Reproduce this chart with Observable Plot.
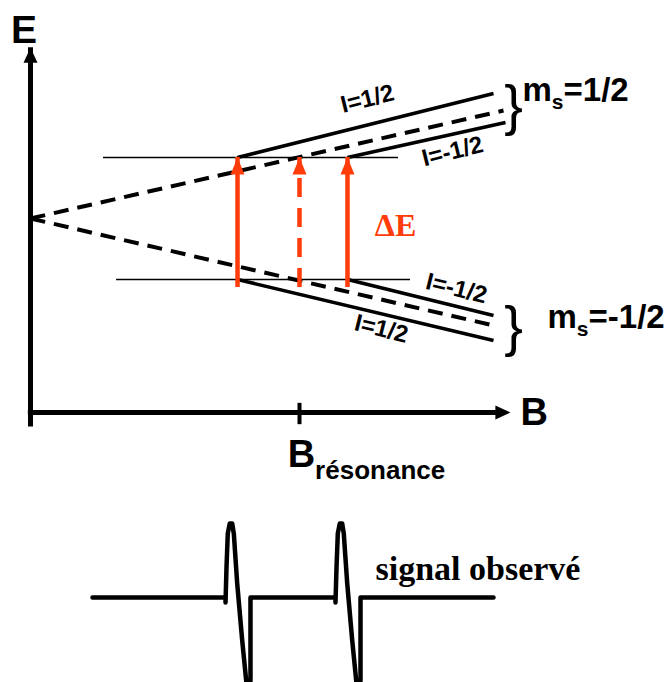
<!DOCTYPE html>
<html>
<head>
<meta charset="utf-8">
<script src="https://cdn.jsdelivr.net/npm/d3@7"></script>
<script src="https://cdn.jsdelivr.net/npm/@observablehq/plot@0.6"></script>
<style>
  html, body { margin: 0; padding: 0; background: #fff; }
  #chart svg { display: block; }
</style>
</head>
<body>
<div id="chart"></div>
<script>
// ---------------- data (B = magnetic field, E = energy, arbitrary units) ----------------
const levelE = [1, -1];                       // two reference levels separated by ΔE
const levelStartB = [1.357, 1.6];
const levelEndB = [6.84, 7.063];

const transitionB = [3.848, 5, 5.892];        // absorption lines; middle one = B résonance without coupling
const transitionDashed = [false, true, false];
const transitionFromE = -1;
const transitionToE = 1;

const zeemanMs = ["1/2", "-1/2"];             // electron Zeeman levels (dashed)
const zeemanEndB = [8.792, 8.606];
const zeemanEndE = [1.77, -1.754];

const hfStartB = [3.848, 5.892, 5.892, 3.848]; // hyperfine levels (solid)
const hfStartE = [1, 1, -1, -1];
const hfEndB = [8.606, 8.829, 8.606, 8.606];
const hfEndE = [2.049, 1.574, -1.59, -2.0];
const hfLabel = ["I=1/2", "I=-1/2", "I=-1/2", "I=1/2"];
const hfLabelB = [6.26, 7.844, 7.918, 6.52];
const hfLabelE = [1.96, 1.098, -1.148, -1.81];
const hfLabelAngle = [-14, -14, 14, 14];

const braceB = [8.978, 8.978];
const braceE = [1.836, -1.787];
const msLabelB = [9.145, 9.61];
const msLabelE = [1.934, -1.803];
const msLabelRest = ["=1/2", "=-1/2"];

const axisB = [-0.04, 8.92];                 // horizontal axis extent (tip)
const axisE = [-3.18, 2.8];                  // vertical axis extent (tip)
const resonanceB = 5;
const resonanceTickE = [-3.03, -3.38];

const deltaE = {label: "ΔE", B: 6.4, E: -0.279};
const eLabel = {label: "E", B: -0.12, E: 2.87};
const bLabel = {label: "B", B: 9.108, E: -3.393};
const bResLabel = {base: "B", sub: "résonance", rest: "", B: 4.78, E: -4.08};

// observed derivative signal
const signalB = [1.152, 3.625, 3.625, 3.643, 3.667, 3.704, 3.749, 3.779, 3.842, 3.935, 3.996, 4.043, 4.089, 4.089, 4.089,
                 5.669, 5.669, 5.688, 5.712, 5.749, 5.794, 5.823, 5.887, 5.98, 6.041, 6.087, 6.134, 6.134, 6.134, 8.606];
const signalAmp = [0, 0, -0.067, 0.4, 0.853, 0.987, 0.987, 0.853, 0.187, -0.573, -1.013, -1.37, -1.107, -0.08, 0,
                   0, -0.067, 0.4, 0.853, 0.987, 0.987, 0.853, 0.187, -0.573, -1.013, -1.37, -1.107, -0.08, 0, 0];
const signalLabel = {label: "signal observé", B: 6.413, amp: 0.227};

// ---------------- tables built from the arrays ----------------
const levels = levelE.map((E, i) => ({E, b0: levelStartB[i], b1: levelEndB[i]}));
const transitions = transitionB.map((B, i) => ({B, dashed: transitionDashed[i]}));
const zeeman = zeemanMs.map((ms, i) => ({ms, B: zeemanEndB[i], E: zeemanEndE[i]}));
const hyperfine = hfStartB.map((b, i) => ({b0: b, e0: hfStartE[i], b1: hfEndB[i], e1: hfEndE[i]}));
const hfLabels = hfLabel.map((t, i) => ({t, B: hfLabelB[i], E: hfLabelE[i], a: hfLabelAngle[i]}));
const braces = braceB.map((B, i) => ({B, E: braceE[i]}));
const msLabels = msLabelRest.map((rest, i) => ({base: "m", sub: "s", rest, B: msLabelB[i], E: msLabelE[i]}));
const signal = signalB.map((B, i) => ({B, amp: signalAmp[i]}));

// ---------------- styles ----------------
const red = "#ff3c0a";
const sans = "Liberation Sans, Arial, Helvetica, sans-serif";
const serif = "Liberation Serif, Times New Roman, serif";
const xScale = {domain: [0, 12], range: [30, 30 + 12 * 53.8]};

// arrow-head symbols (tip at the anchor point)
function head(dir, w, l) {
  return {
    draw(ctx) {
      if (dir === "up") { ctx.moveTo(0, 0); ctx.lineTo(w / 2, l); ctx.lineTo(-w / 2, l); }
      else { ctx.moveTo(0, 0); ctx.lineTo(-l, w / 2); ctx.lineTo(-l, -w / 2); }
      ctx.closePath();
    }
  };
}

const topPlot = Plot.plot({
  width: 671, height: 490,
  margin: 0,
  x: {...xScale, axis: null},
  y: {domain: [-4.5, 3.5], range: [218 + 4.5 * 61, 218 - 3.5 * 61], axis: null},
  style: {fontFamily: sans, background: "white"},
  marks: [
    // axes
    Plot.ruleX([0], {x: d => d, y1: axisE[0] - 0.04, y2: axisE[1], stroke: "black", strokeWidth: 5, insetTop: 12}),
    Plot.ruleY([axisE[0]], {y: d => d, x1: axisB[0], x2: axisB[1], stroke: "black", strokeWidth: 5, insetRight: 12}),
    Plot.dot([0], {x: d => d, y: axisE[1], symbol: head("up", 14, 15), r: 5, fill: "black", stroke: "none"}),
    Plot.dot([axisB[1]], {x: d => d, y: axisE[0], symbol: head("right", 14, 15), r: 5, fill: "black", stroke: "none"}),
    Plot.ruleX([resonanceB], {x: d => d, y1: resonanceTickE[0], y2: resonanceTickE[1], stroke: "black", strokeWidth: 4}),
    // reference levels
    Plot.ruleY(levels, {y: "E", x1: "b0", x2: "b1", stroke: "black", strokeWidth: 1.6}),
    // Zeeman (dashed)
    Plot.link(zeeman, {x1: 0, y1: 0, x2: "B", y2: "E", stroke: "black", strokeWidth: 4, strokeDasharray: "15,9"}),
    // hyperfine (solid)
    Plot.link(hyperfine, {x1: "b0", y1: "e0", x2: "b1", y2: "e1", stroke: "black", strokeWidth: 3.5}),
    // transitions
    Plot.ruleX(transitions.filter(d => !d.dashed), {x: "B", y1: transitionFromE, y2: transitionToE, stroke: red, strokeWidth: 4.5, insetTop: 8}),
    Plot.ruleX(transitions.filter(d => d.dashed), {x: "B", y1: transitionFromE, y2: transitionToE, stroke: red, strokeWidth: 4.5, insetTop: 8, strokeDasharray: "19,11"}),
    Plot.dot(transitions, {x: "B", y: transitionToE, symbol: head("up", 14, 17), r: 5, fill: red, stroke: "none"}),
    // labels
    Plot.text(hfLabels, {x: "B", y: "E", text: "t", rotate: "a", fontSize: 24, fontWeight: "bold", textAnchor: "middle", lineAnchor: "middle", fill: "black"}),
    Plot.text(braces, {x: "B", y: "E", text: d => "}", fontSize: 56, fontWeight: "normal", textAnchor: "middle", lineAnchor: "middle", fill: "black"}),
    Plot.text(msLabels, {x: "B", y: "E", text: d => d.base + d.sub + d.rest, fontSize: 33, fontWeight: "bold", textAnchor: "start", lineAnchor: "bottom", fill: "black"}),
    Plot.text([deltaE], {x: "B", y: "E", text: "label", fontFamily: serif, fontSize: 32, fontWeight: "bold", textAnchor: "start", lineAnchor: "bottom", fill: red}),
    Plot.text([eLabel], {x: "B", y: "E", text: "label", fontSize: 39, fontWeight: "bold", textAnchor: "middle", lineAnchor: "bottom", fill: "black"}),
    Plot.text([bLabel], {x: "B", y: "E", text: "label", fontSize: 38, fontWeight: "bold", textAnchor: "start", lineAnchor: "bottom", fill: "black"}),
    Plot.text([bResLabel], {x: "B", y: "E", text: d => d.base + d.sub + d.rest, fontSize: 38, fontWeight: "bold", textAnchor: "start", lineAnchor: "bottom", fill: "black"})
  ]
});

const bottomPlot = Plot.plot({
  width: 671, height: 192,
  margin: 0,
  x: {...xScale, axis: null},
  y: {domain: [-1.2, 1.4], range: [197, 2], axis: null},
  style: {fontFamily: serif, background: "white"},
  marks: [
    Plot.line(signal, {x: "B", y: "amp", stroke: "black", strokeWidth: 4.5, strokeLinejoin: "round", curve: "linear", clip: true}),
    Plot.text([signalLabel], {x: "B", y: "amp", text: "label", fontFamily: serif, fontSize: 34, fontWeight: "bold", textAnchor: "start", lineAnchor: "bottom", fill: "black"})
  ]
});

// subscripts
const subStyle = {m: {size: 21, dy: 8}, B: {size: 26, dy: 12}};
function applySub(svg, items) {
  d3.select(svg).selectAll("text").each(function () {
    const t = this.textContent;
    const it = items.find(d => d.base + d.sub + d.rest === t);
    if (!it) return;
    const st = subStyle[it.base];
    const sel = d3.select(this);
    sel.text(null);
    sel.append("tspan").text(it.base);
    sel.append("tspan").attr("font-size", st.size).attr("dy", st.dy).text(it.sub);
    if (it.rest) sel.append("tspan").attr("dy", -st.dy).text(it.rest);
  });
}
applySub(topPlot, [...msLabels, bResLabel]);

document.getElementById("chart").append(topPlot, bottomPlot);
</script>
</body>
</html>
